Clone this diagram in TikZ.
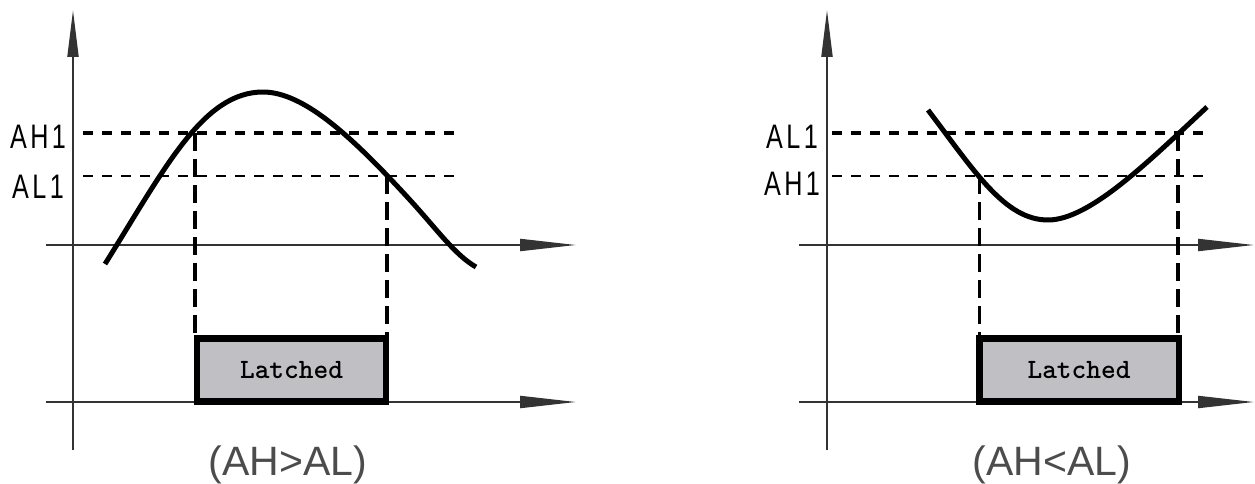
\documentclass[tikz,border=0pt]{standalone}
\usepackage{fontspec}
\usepackage{tikz}
\usetikzlibrary{arrows.meta}
\newfontfamily\axisfont[FakeStretch=0.74,LetterSpace=10]{Liberation Sans}
\newfontfamily\capfont{Liberation Sans}
\definecolor{latchgray}{rgb}{0.75,0.75,0.77}
\definecolor{capgray}{rgb}{0.3,0.3,0.3}

\begin{document}
\begin{tikzpicture}[
  x=1pt,y=-1pt,
  axisx/.style={-{Triangle[length=56pt,width=12pt]}, line width=2pt, draw=black!80},
  axisy/.style={-{Triangle[length=47pt,width=11pt]}, line width=2pt, draw=black!80},
  signal/.style={line width=5pt, line join=round},
  hiline/.style={line width=3.5pt, dash pattern=on 10pt off 9pt},
  loline/.style={line width=2.6pt, dash pattern=on 10pt off 9pt},
  drop/.style={line width=3.5pt, dash pattern=on 18pt off 8pt},
  latch/.style={draw, line width=6.5pt, fill=latchgray, minimum width=#1, minimum height=63pt, inner sep=0pt, font=\fontsize{28}{28}\selectfont\ttfamily\bfseries},
  lbl/.style={anchor=base, inner sep=0pt, font=\fontsize{34}{34}\selectfont\axisfont},
  captxt/.style={anchor=base, inner sep=0pt, text=capgray, font=\fontsize{41}{41}\selectfont\capfont}
]
\useasboundingbox (0,0) rectangle (1255,484);

\coordinate (yb1) at (73,450);
\coordinate (yt1) at (73,10);
\coordinate (xa1) at (46,245);
\coordinate (xe1) at (576,245);
\coordinate (xc1) at (46,402);
\coordinate (xf1) at (576,402);
\draw[axisy] (yb1) -- (yt1);
\draw[axisx] (xa1) -- (xe1);
\draw[axisx] (xc1) -- (xf1);

\node[lbl] (ah1) at (38,148) {AH1};
\node[lbl] (al1) at (38,198) {AL1};
\coordinate (hs1) at (83,133);
\coordinate (he1) at (460,133);
\coordinate (ls1) at (83,176);
\coordinate (le1) at (460,176);
\draw[hiline] (hs1) -- (he1);
\draw[loline] (ls1) -- (le1);

\node[latch=189pt] (boxL) at (291.5,370) {Latched};
\coordinate (cutL1) at (195,133);
\coordinate (cutL2) at (387,176);
\draw[drop] (cutL1) -- (cutL1 |- boxL.north);
\draw[drop] (cutL2) -- (cutL2 |- boxL.north);
\coordinate (sL) at (105,264);
\coordinate (pkL) at (263,92);
\coordinate (mL) at (410,200);
\coordinate (eL) at (476,267);
\draw[signal] (sL) .. controls (165,168) and (203,92) .. (pkL)
  .. controls (305,92) and (355,140) .. (mL)
  .. controls (437,229.5) and (455,255) .. (eL);

\node[captxt] (capL) at (288,475) {(AH>AL)};

\coordinate (yb2) at (827,450);
\coordinate (yt2) at (827,10);
\coordinate (xa2) at (799,245);
\coordinate (xe2) at (1254,245);
\coordinate (xc2) at (799,402);
\coordinate (xf2) at (1254,402);
\draw[axisy] (yb2) -- (yt2);
\draw[axisx] (xa2) -- (xe2);
\draw[axisx] (xc2) -- (xf2);

\node[lbl] (al2) at (792,148) {AL1};
\node[lbl] (ah2) at (792,195) {AH1};
\coordinate (ls2) at (832,133);
\coordinate (le2) at (1208,133);
\coordinate (hs2) at (832,176);
\coordinate (he2) at (1208,176);
\draw[hiline] (ls2) -- (le2);
\draw[loline] (hs2) -- (he2);

\node[latch=199.5pt] (boxR) at (1079,370) {Latched};
\coordinate (cutR1) at (979.5,176);
\coordinate (cutR2) at (1178,133);
\draw[drop] (cutR1) -- (cutR1 |- boxR.north);
\draw[drop] (cutR2) -- (cutR2 |- boxR.north);
\coordinate (sR) at (928,110);
\coordinate (mnR) at (1048,220);
\coordinate (eR) at (1207,107);
\draw[signal] (sR) .. controls (975,172) and (1005,220) .. (mnR)
  .. controls (1090,220) and (1150,160) .. (eR);

\node[captxt] (capR) at (1052,475) {(AH<AL)};
\end{tikzpicture}
\end{document}
